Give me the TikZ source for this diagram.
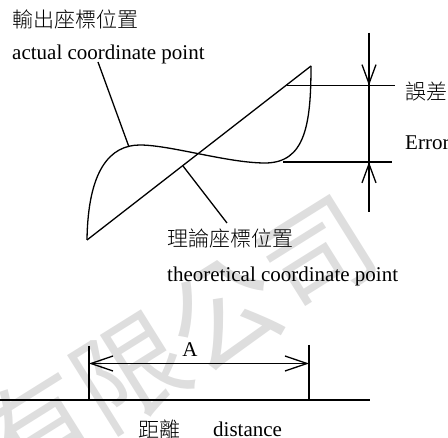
\documentclass[tikz,border=0pt]{standalone}
\usepackage{fontspec}
\setmainfont{Liberation Serif}
\IfFontExistsTF{Noto Sans CJK TC Light}
  {\newfontfamily\cjk{Noto Sans CJK TC Light}}
  {\newfontfamily\cjk{Noto Sans CJK TC}}
\newfontfamily\cjkwm{Noto Sans CJK TC}
\usetikzlibrary{arrows.meta}
\begin{document}
\begin{tikzpicture}[x=1pt,y=-1pt,
  ln/.style={line width=1.3pt},
  lbl/.style={inner sep=0pt, font=\fontsize{21}{25}\selectfont},
  cj/.style={inner sep=0pt, font=\cjk\fontsize{21}{25}\selectfont},
  vbarb/.style={-{Straight Barb[length=19pt,width=14pt]}},
  hbarb/.style={{Straight Barb[length=22pt,width=15pt]}-{Straight Barb[length=22pt,width=15pt]}},
  wm/.style={text=black!13, font=\cjkwm\fontsize{110}{110}\selectfont, rotate=32, inner sep=0pt}]
\useasboundingbox (0,0) rectangle (448,438);
% watermark
\node[wm] (wm) at (177,342) {有限公司};
% texts
\node[cj, anchor=west] (t1) at (12,19) {輸出座標位置};
\node[lbl, anchor=base west] (t2) at (12,60) {actual coordinate point};
\node[cj, anchor=west] (t3) at (405,92) {誤差};
\node[lbl, anchor=base west] (t4) at (405,150) {Error};
\node[cj, anchor=west] (t5) at (167,239) {理論座標位置};
\node[lbl, anchor=base west] (t6) at (167,282) {theoretical coordinate point};
\node[lbl, anchor=base] (tA) at (190,357) {A};
\node[cj, anchor=west] (t7) at (138,430) {距離};
\node[lbl, anchor=base west] (t8) at (213,437) {distance};
% theoretical line and actual curve
\coordinate (O) at (87,240);
\coordinate (P) at (311,66);
\draw[ln] (O) -- (P);
\draw[ln, line join=round] (O) .. controls (88,170) and (110,145) .. (140,145)
  .. controls (170,145) and (228,163) .. (265,163)
  .. controls (305,163) and (311,125) .. (P);
% leaders
\coordinate (a1) at (98,62);
\coordinate (a2) at (129,147);
\draw[ln] (a1) -- (a2);
\coordinate (b1) at (183,166);
\coordinate (b2) at (227,223);
\draw[ln] (b1) -- (b2);
% error dimension
\coordinate (h1s) at (286.5,85.5);
\coordinate (h1e) at (395,85.5);
\coordinate (h2s) at (283,162);
\coordinate (h2e) at (392,162);
\draw[ln] (h1s) -- (h1e);
\draw[ln] (h2s) -- (h2e);
\coordinate (vt) at (369,33);
\coordinate (vb) at (369,212);
\coordinate (vm1) at (369,85.5);
\coordinate (vm2) at (369,162);
\draw[ln] (vt) -- (vb);
\draw[ln, vbarb] (vt) -- (vm1);
\draw[ln, vbarb] (vb) -- (vm2);
% A dimension
\coordinate (L1) at (89,346);
\coordinate (L2) at (89,400);
\coordinate (R1) at (309,345);
\coordinate (R2) at (309,400);
\draw[ln] (L1) -- (L2);
\draw[ln] (R1) -- (R2);
\coordinate (La) at (89,363.5);
\coordinate (Ra) at (309,363.5);
\draw[ln, hbarb] (La) -- (Ra);
% ground line
\coordinate (g1) at (0,400);
\coordinate (g2) at (370,400);
\draw[ln] (g1) -- (g2);
\end{tikzpicture}
\end{document}
